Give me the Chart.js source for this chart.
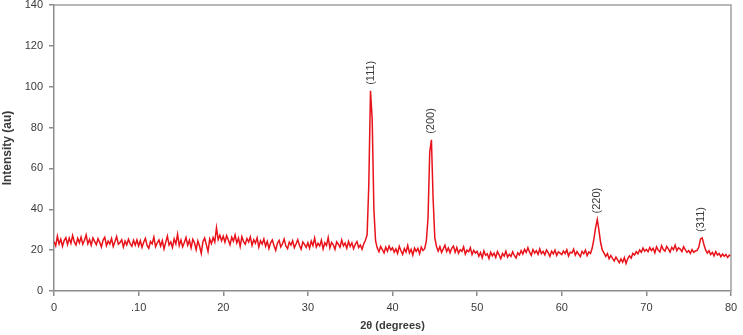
<!DOCTYPE html>
<html>
<head>
<meta charset="utf-8">
<script src="https://cdn.jsdelivr.net/npm/chart.js@4/dist/chart.umd.min.js"></script>
<style>
  html, body { margin:0; padding:0; background:#fff; }
  #wrap { width:743px; height:335px; position:relative; }
</style>
</head>
<body>
<div id="wrap"><canvas id="xrd"></canvas></div>
<script>
// 2theta sampling: start 0, step 0.2 deg, up to 80
const THETA_START = 0;
const THETA_STEP = 0.2;

// intensity, 25 values per 5 degrees
const intensity = [
  // 0 - 4.8
  24.2, 22.1, 26.8, 23.0, 25.4, 21.9, 24.7, 26.1, 22.8, 25.9, 23.3, 27.2, 24.0, 22.5, 25.8, 23.6, 26.4, 22.9, 24.8, 27.5, 23.1, 25.2, 22.4, 26.0, 24.3,
  // 5 - 9.8
  22.7, 25.6, 23.8, 21.6, 24.9, 26.3, 22.2, 24.5, 23.0, 25.7, 21.8, 24.1, 26.6, 22.9, 23.7, 25.1, 21.5, 24.4, 22.6, 25.3, 23.2, 21.9, 24.8, 22.4, 25.0,
  // 10 - 14.8
  22.1, 24.6, 21.4, 23.9, 25.8, 22.3, 20.9, 24.2, 23.1, 26.4, 21.7, 23.5, 25.0, 22.0, 24.7, 20.6, 23.8, 26.9, 22.5, 24.0, 21.3, 25.5, 23.0, 27.8, 22.2,
  // 15 - 19.8
  24.9, 21.6, 23.7, 26.2, 22.4, 24.8, 21.1, 25.3, 23.6, 20.2, 24.5, 22.0, 18.4, 24.1, 25.9, 22.7, 19.3, 25.4, 23.2, 26.1, 24.0, 31.0, 25.2, 27.3, 24.6,
  // 20 - 24.8
  26.8, 23.9, 27.1, 25.0, 22.6, 26.3, 24.4, 27.4, 23.5, 25.9, 21.8, 26.6, 24.2, 22.9, 25.7, 24.0, 26.5, 22.3, 25.1, 23.4, 26.0, 21.5, 24.6, 23.0, 25.5,
  // 25 - 29.8
  21.9, 24.3, 20.8, 23.6, 25.0, 22.1, 19.9, 23.4, 24.8, 21.6, 23.1, 25.4, 22.0, 20.7, 23.9, 22.5, 24.6, 21.2, 23.0, 25.1, 22.4, 20.5, 24.0, 22.8, 21.3,
  // 30 - 34.8
  23.7, 21.0, 24.4, 22.2, 25.9, 21.5, 23.3, 22.0, 24.9, 20.6, 23.6, 22.3, 26.2, 21.1, 23.8, 22.6, 20.4, 24.1, 22.9, 21.4, 25.0, 22.1, 23.5, 20.9, 24.3,
  // 35 - 39.8  (111)
  21.8, 23.6, 20.7, 22.9, 24.2, 21.3, 22.5, 20.4, 23.1, 24.8, 27.5, 52.0, 98.0, 84.0, 40.0, 24.5, 21.0, 19.2, 21.8, 20.3, 18.6, 21.4, 19.5, 22.0, 20.1,
  // 40 - 44.8  (200)
  21.2, 19.0, 20.6, 18.4, 21.9, 19.7, 17.9, 20.8, 19.1, 22.3, 18.6, 20.4, 17.6, 21.0, 19.4, 20.9, 18.2, 21.5, 19.8, 20.7, 24.5, 36.0, 68.0, 74.0, 45.0,
  // 45 - 49.8
  26.0, 21.8, 19.5, 21.7, 18.9, 20.6, 22.4, 19.3, 21.1, 18.7, 20.9, 22.0, 19.0, 21.3, 18.5, 20.2, 19.4, 21.6, 18.1, 20.0, 19.2, 21.2, 17.8, 19.9, 18.6,
  // 50 - 54.8
  19.4, 17.0, 18.8, 16.3, 19.6, 17.5, 18.2, 15.9, 19.0, 17.2, 18.5, 16.4, 19.3, 17.7, 15.8, 18.4, 17.1, 19.5, 16.6, 18.0, 16.9, 19.2, 17.4, 16.1, 18.7,
  // 55 - 59.8
  17.6, 19.8, 18.1, 20.4, 18.9, 21.2, 19.0, 17.5, 20.3, 18.6, 19.7, 17.9, 20.6, 18.3, 19.4, 17.7, 20.1, 18.8, 16.9, 19.5, 18.2, 20.0, 17.4, 19.1, 18.5,
  // 60 - 64.8  (220)
  17.8, 19.6, 18.3, 20.2, 17.1, 19.0, 18.6, 20.5, 17.6, 19.3, 18.0, 16.8, 19.4, 18.2, 20.0, 17.3, 19.1, 18.4, 21.0, 25.5, 31.0, 35.0, 29.5, 23.5, 20.0,
  // 65 - 69.8
  18.5, 16.9, 18.3, 15.8, 17.4, 16.0, 14.7, 16.6, 15.2, 13.9, 15.7, 14.1, 16.3, 13.5, 15.9, 17.2, 16.1, 18.4, 17.6, 19.3, 18.2, 20.1, 19.0, 21.0, 19.5,
  // 70 - 74.8
  20.4, 19.2, 21.3, 19.8, 20.9, 18.7, 21.6, 20.0, 19.1, 22.2, 20.3, 19.5, 21.8, 20.6, 19.0, 21.4, 20.2, 22.5, 19.7, 21.1, 20.5, 19.3, 21.7, 20.1, 18.9,
  // 75 - 79.8  (311)
  19.8, 18.4, 20.3, 18.9, 19.6, 19.9, 21.5, 25.5, 26.0, 22.8, 20.1, 18.6, 19.7, 17.8, 18.9, 17.2, 19.3, 17.6, 18.4, 16.8, 18.1, 17.0, 17.9, 16.4, 17.5,
  // 80
  17.2
];

// peak labels (Miller indices)
const peakLabels = ["(111)", "(200)", "(220)", "(311)"];
const peakTheta = [37.45, 44.5, 64.2, 76.5];
const peakTop = [98, 74, 35, 26];

const xTickLabels = {0:"0", 10:".10", 20:"20", 30:"30", 40:"40", 50:"50", 60:"60", 70:"70", 80:"80"};

const points = intensity.map((v, i) => ({ x: +(THETA_START + i*THETA_STEP).toFixed(1), y: v }));

const AXIS = "#8c8c8c";
const TXT = "#3a3a3a";
const FONT = "'Liberation Sans', Arial, sans-serif";

// frame on top/right + peak indices
const extras = {
  id: "extras",
  afterDatasetsDraw(chart){
    const {ctx, chartArea:a, scales:{x, y}} = chart;
    ctx.save();
    ctx.strokeStyle = "#a0a0a0";
    ctx.lineWidth = 1.5;
    ctx.beginPath();
    ctx.moveTo(a.left, a.top);
    ctx.lineTo(a.right, a.top);
    ctx.lineTo(a.right, a.bottom);
    ctx.stroke();

    ctx.fillStyle = TXT;
    ctx.font = "11px " + FONT;
    ctx.textAlign = "left";
    ctx.textBaseline = "middle";
    peakLabels.forEach((lab, i) => {
      const px = x.getPixelForValue(peakTheta[i]);
      const py = y.getPixelForValue(peakTop[i]) - 6;
      ctx.save();
      ctx.translate(px, py);
      ctx.rotate(-Math.PI/2);
      ctx.fillText(lab, 0, 0);
      ctx.restore();
    });
    ctx.restore();
  }
};

new Chart(document.getElementById("xrd"), {
  type: "line",
  data: {
    datasets: [{
      data: points,
      borderColor: "#e8121a",
      borderWidth: 1.5,
      pointRadius: 0,
      tension: 0,
      fill: false
    }]
  },
  options: {
    responsive: true,
    maintainAspectRatio: false,
    animation: false,
    layout: { padding: { top: 5, right: 12, left: 0, bottom: 0 } },
    plugins: { legend: { display: false }, tooltip: { enabled: false } },
    scales: {
      x: {
        type: "linear",
        min: 0, max: 80,
        afterFit: s => { s.height = 44; s.paddingLeft = 0; s.paddingRight = 0; },
        grid: { display: true, drawOnChartArea: false, drawTicks: true, tickLength: 5, color: AXIS, lineWidth: 1.5 },
        border: { display: true, color: AXIS, width: 1.5 },
        ticks: {
          stepSize: 10, padding: 5, color: TXT, maxRotation: 0,
          font: { family: FONT, size: 11 },
          callback: v => xTickLabels[v] ?? ""
        },
        title: {
          display: true, text: "2θ (degrees)", color: TXT,
          font: { family: FONT, size: 11, weight: "bold" },
          padding: { top: 0, bottom: 2 }
        }
      },
      y: {
        min: 0, max: 140,
        afterFit: s => { s.width = 54; s.paddingTop = 0; s.paddingBottom = 0; },
        grid: { display: true, drawOnChartArea: false, drawTicks: true, tickLength: 5, color: AXIS, lineWidth: 1.5 },
        border: { display: true, color: AXIS, width: 1.5 },
        ticks: {
          stepSize: 20, padding: 6, color: TXT,
          font: { family: FONT, size: 11 }
        },
        title: {
          display: true, text: "Intensity (au)", color: TXT,
          font: { family: FONT, size: 12, weight: "bold" },
          padding: { top: 0, bottom: 0 }
        }
      }
    }
  },
  plugins: [extras]
});
</script>
</body>
</html>
